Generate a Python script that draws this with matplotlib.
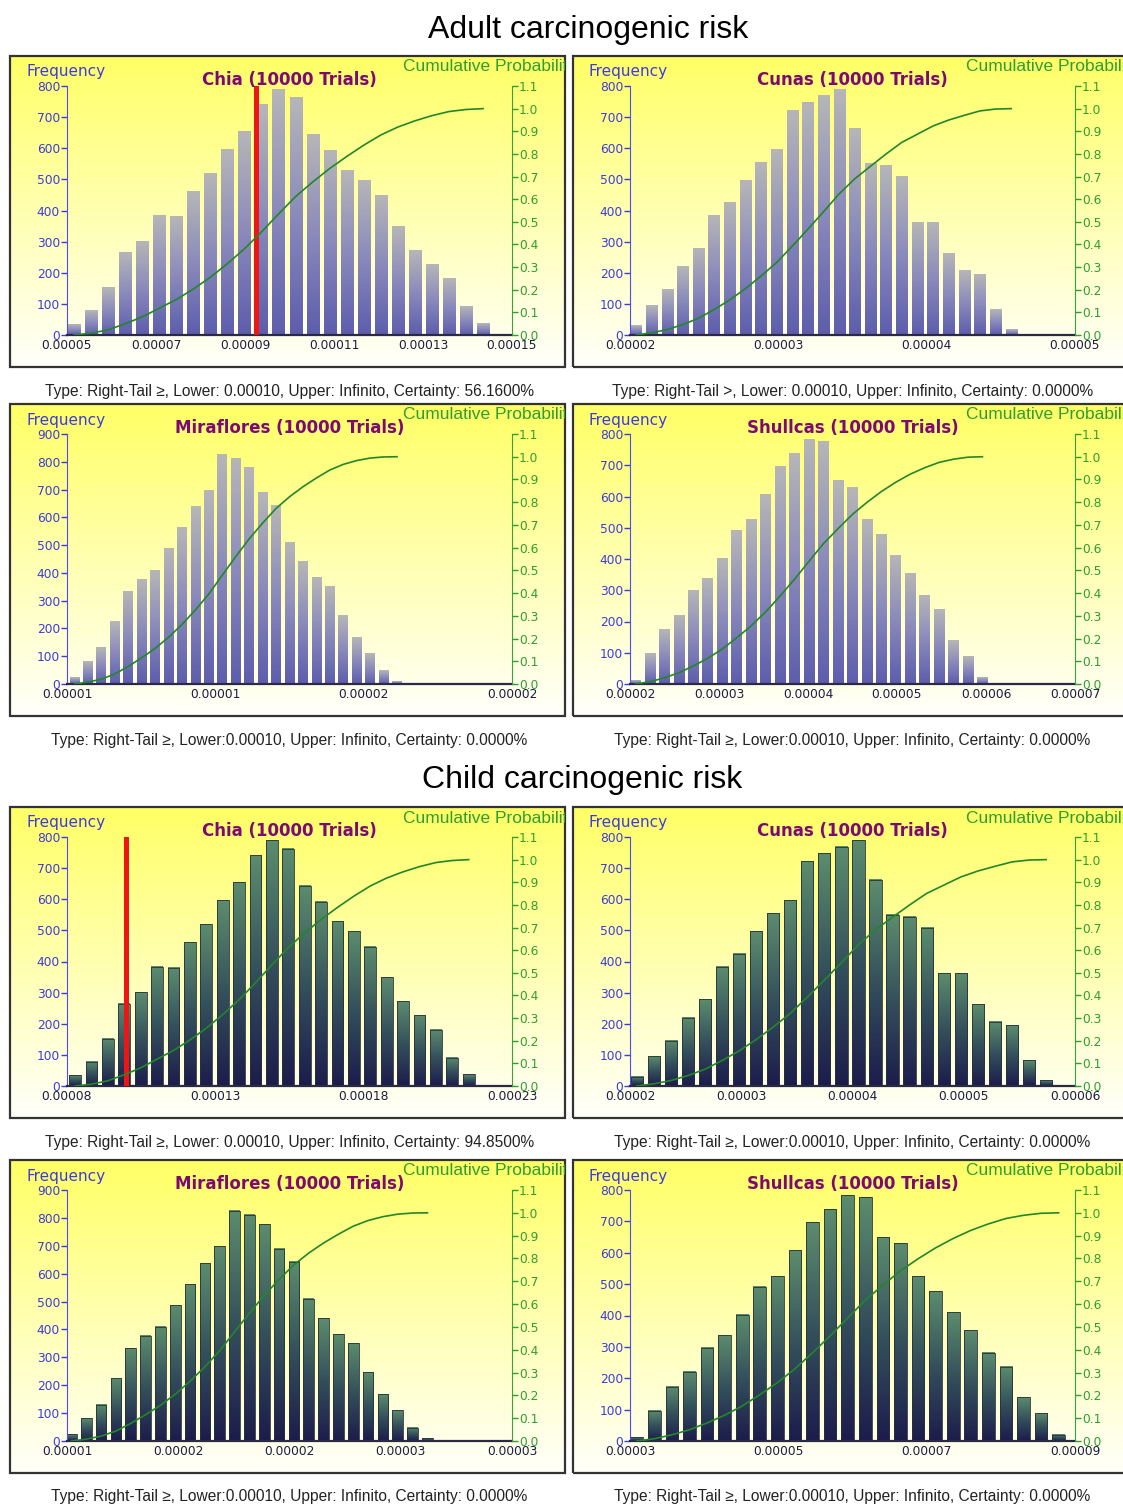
import numpy as np
import matplotlib.pyplot as plt
from matplotlib.colors import LinearSegmentedColormap
from matplotlib.patches import Rectangle

plt.rcParams['font.family'] = ['DejaVu Sans']

W, H = 1123, 1504

# frequency counts per site (25 bins, 10000 trials); child runs share the same shape
chia_counts = [35, 78, 152, 265, 302, 383, 380, 462, 520, 597, 655, 742, 790,
               763, 643, 592, 530, 497, 447, 350, 273, 228, 180, 90, 38]
cunas_counts = [30, 95, 145, 220, 278, 383, 425, 497, 555, 597, 722, 748, 768,
                790, 663, 550, 543, 508, 362, 362, 262, 207, 195, 82, 18]
miraflores_counts = [25, 82, 130, 225, 332, 378, 410, 487, 562, 638, 698, 825, 812,
                     778, 690, 642, 510, 440, 383, 350, 247, 167, 110, 48, 10]
shullcas_counts = [12, 97, 173, 220, 298, 337, 403, 492, 525, 608, 697, 738, 783,
                   777, 650, 630, 525, 478, 410, 353, 282, 237, 140, 88, 20]

# centre of first and last bin
adult_chia_bins = (0.0000516, 0.0001435)
adult_cunas_bins = (0.0000204, 0.0000457)
adult_miraflores_bins = (0.0000082, 0.0000169)
adult_shullcas_bins = (0.0000206, 0.0000596)
child_chia_bins = (0.0000827, 0.0002154)
child_cunas_bins = (0.0000206, 0.0000574)
child_miraflores_bins = (0.0000102, 0.0000262)
child_shullcas_bins = (0.0000309, 0.0000878)

# x ticks and their printed labels
adult_chia_ticks = [0.00005, 0.00007, 0.00009, 0.00011, 0.00013, 0.00015]
adult_chia_labels = ['0.00005', '0.00007', '0.00009', '0.00011', '0.00013', '0.00015']
adult_cunas_ticks = [0.00002, 0.00003, 0.00004, 0.00005]
adult_cunas_labels = ['0.00002', '0.00003', '0.00004', '0.00005']
adult_miraflores_ticks = [0.000008, 0.000012, 0.000016, 0.000020]
adult_miraflores_labels = ['0.00001', '0.00001', '0.00002', '0.00002']
adult_shullcas_ticks = [0.00002, 0.00003, 0.00004, 0.00005, 0.00006, 0.00007]
adult_shullcas_labels = ['0.00002', '0.00003', '0.00004', '0.00005', '0.00006', '0.00007']
child_chia_ticks = [0.00008, 0.00013, 0.00018, 0.00023]
child_chia_labels = ['0.00008', '0.00013', '0.00018', '0.00023']
child_cunas_ticks = [0.00002, 0.00003, 0.00004, 0.00005, 0.00006]
child_cunas_labels = ['0.00002', '0.00003', '0.00004', '0.00005', '0.00006']
child_miraflores_ticks = [0.000010, 0.000015, 0.000020, 0.000025, 0.000030]
child_miraflores_labels = ['0.00001', '0.00002', '0.00002', '0.00003', '0.00003']
child_shullcas_ticks = [0.00003, 0.00005, 0.00007, 0.00009]
child_shullcas_labels = ['0.00003', '0.00005', '0.00007', '0.00009']

# lower limit marker drawn on the Chia charts
adult_chia_marker = 0.0000924
child_chia_marker = 0.00010

captions = [
    'Type: Right-Tail \u2265, Lower: 0.00010, Upper: Infinito, Certainty: 56.1600%',
    'Type: Right-Tail >, Lower: 0.00010, Upper: Infinito, Certainty: 0.0000%',
    'Type: Right-Tail \u2265, Lower:0.00010, Upper: Infinito, Certainty: 0.0000%',
    'Type: Right-Tail \u2265, Lower:0.00010, Upper: Infinito, Certainty: 0.0000%',
    'Type: Right-Tail \u2265, Lower: 0.00010, Upper: Infinito, Certainty: 94.8500%',
    'Type: Right-Tail \u2265, Lower:0.00010, Upper: Infinito, Certainty: 0.0000%',
    'Type: Right-Tail \u2265, Lower:0.00010, Upper: Infinito, Certainty: 0.0000%',
    'Type: Right-Tail \u2265, Lower:0.00010, Upper: Infinito, Certainty: 0.0000%',
]

bg_cmap = LinearSegmentedColormap.from_list('bg', ['#fffffa', '#ffffb0', '#ffff66'])
adult_cmap = LinearSegmentedColormap.from_list('adult', ['#5d5dad', '#8a8abc', '#b6b6b8'])
child_cmap = LinearSegmentedColormap.from_list('child', ['#1c1c4c', '#34505c', '#5c8c6e'])
grad = np.linspace(0, 1, 128)[:, None]


def frac(x0, y0, x1, y1):
    return [x0 / W, 1 - y1 / H, (x1 - x0) / W, (y1 - y0) / H]


def draw_panel(fig, box, name, counts, bins, ticks, labels, caption, cmap,
               ymax=800, marker=None, edge='none'):
    x0, y0, x1, y1 = box
    bg = fig.add_axes(frac(x0, y0, x1, y1))
    bg.imshow(grad, cmap=bg_cmap, aspect='auto', extent=[0, 1, 0, 1], origin='lower')
    bg.set_xlim(0, 1)
    bg.set_ylim(0, 1)
    bg.axis('off')
    bg.add_patch(Rectangle((0, 0), 1, 1, transform=bg.transAxes, fill=False,
                           ec='#333333', lw=1.6, clip_on=False))
    bw, bh = x1 - x0, y1 - y0
    bg.text(16 / bw, 1 - 16 / bh, 'Frequency', transform=bg.transAxes, color='#3b3be0',
            fontsize=11, va='center', ha='left', clip_on=True)
    bg.text(393 / bw, 1 - 11 / bh, 'Cumulative Probability', transform=bg.transAxes,
            color='#2f9e2f', fontsize=12.5, family=['Liberation Sans'], va='center',
            ha='left', clip_on=True)

    al, ar = x0 + 57, x0 + 502
    at, ab = y0 + 30, y1 - 32
    ax = fig.add_axes(frac(al, at, ar, ab))
    ax.set_facecolor('none')

    counts = np.array(counts, dtype=float)
    centers = np.linspace(bins[0], bins[1], len(counts))
    step = (bins[1] - bins[0]) / (len(counts) - 1)
    bars = ax.bar(centers, counts, width=step * 0.72, color='none', edgecolor=edge,
                  lw=0.6, zorder=2.5)
    for b in bars:
        bx, bwid, bht = b.get_x(), b.get_width(), b.get_height()
        ax.imshow(grad, cmap=cmap, aspect='auto', origin='lower',
                  extent=[bx, bx + bwid, 0, bht], zorder=2)

    if marker is not None:
        ax.plot([marker, marker], [0, 800], color='#ee1515', lw=3.6, zorder=4,
                solid_capstyle='round')

    ax.set_xlim(ticks[0], ticks[-1])
    ax.set_ylim(0, ymax)
    ax.set_xticks(ticks)
    ax.set_xticklabels(labels)
    ax.set_yticks(np.arange(0, ymax + 1, 100))
    ax.tick_params(axis='x', length=0, labelsize=8.8, labelcolor='#1c1c44', pad=3)
    ax.tick_params(axis='y', length=4, width=1, colors='#3b3be0', labelsize=8.8, pad=1)
    for s in ('top', 'right'):
        ax.spines[s].set_visible(False)
    ax.spines['left'].set_color('#4a4aff')
    ax.spines['bottom'].set_color('#2a2a44')
    ax.spines['bottom'].set_linewidth(1.6)

    # cumulative probability on the right axis
    ax2 = ax.twinx()
    cum = (np.cumsum(counts) - counts[0]) / (counts.sum() - counts[0])
    ax2.plot(centers, cum, color='#23862a', lw=1.2, zorder=5)
    ax2.set_ylim(0, 1.1)
    ax2.set_yticks(np.arange(0, 1.11, 0.1))
    ax2.set_yticklabels(['%.1f' % v for v in np.arange(0, 1.11, 0.1)])
    ax2.tick_params(axis='y', length=4, width=1, colors='#2f9e2f', labelsize=8.8, pad=1)
    for s in ('top', 'left', 'bottom'):
        ax2.spines[s].set_visible(False)
    ax2.spines['right'].set_color('#3aa03a')

    cx = (al + ar) / 2
    fig.text(cx / W, 1 - (y0 + 24) / H, name + ' (10000 Trials)', color='#7d0a72',
             fontsize=12, fontweight='bold', ha='center', va='center')
    fig.text(cx / W, 1 - (y1 + 24) / H, caption, color='#222222', fontsize=11.2,
             family=['Liberation Sans'], ha='center', va='center')


fig = plt.figure(figsize=(W / 100, H / 100), dpi=100)
fig.patch.set_facecolor('white')

fig.text(588 / W, 1 - 30 / H, 'Adult carcinogenic risk', fontsize=23,
         family=['Liberation Sans Narrow', 'Liberation Sans'], ha='center', va='center')
fig.text(582 / W, 1 - 780 / H, 'Child carcinogenic risk', fontsize=23,
         family=['Liberation Sans Narrow', 'Liberation Sans'], ha='center', va='center')

left_col = (10, 565)
right_col = (573, 1130)
rows = [(56, 367), (404, 716), (807, 1118), (1160, 1473)]


def box(col, row):
    return (col[0], row[0], col[1], row[1])


draw_panel(fig, box(left_col, rows[0]), 'Chia', chia_counts, adult_chia_bins,
           adult_chia_ticks, adult_chia_labels, captions[0], adult_cmap,
           marker=adult_chia_marker)
draw_panel(fig, box(right_col, rows[0]), 'Cunas', cunas_counts, adult_cunas_bins,
           adult_cunas_ticks, adult_cunas_labels, captions[1], adult_cmap)
draw_panel(fig, box(left_col, rows[1]), 'Miraflores', miraflores_counts, adult_miraflores_bins,
           adult_miraflores_ticks, adult_miraflores_labels, captions[2], adult_cmap, ymax=900)
draw_panel(fig, box(right_col, rows[1]), 'Shullcas', shullcas_counts, adult_shullcas_bins,
           adult_shullcas_ticks, adult_shullcas_labels, captions[3], adult_cmap)

draw_panel(fig, box(left_col, rows[2]), 'Chia', chia_counts, child_chia_bins,
           child_chia_ticks, child_chia_labels, captions[4], child_cmap,
           marker=child_chia_marker, edge='#26323a')
draw_panel(fig, box(right_col, rows[2]), 'Cunas', cunas_counts, child_cunas_bins,
           child_cunas_ticks, child_cunas_labels, captions[5], child_cmap, edge='#26323a')
draw_panel(fig, box(left_col, rows[3]), 'Miraflores', miraflores_counts, child_miraflores_bins,
           child_miraflores_ticks, child_miraflores_labels, captions[6], child_cmap,
           ymax=900, edge='#26323a')
draw_panel(fig, box(right_col, rows[3]), 'Shullcas', shullcas_counts, child_shullcas_bins,
           child_shullcas_ticks, child_shullcas_labels, captions[7], child_cmap, edge='#26323a')

fig.savefig('out.png', dpi=100)
